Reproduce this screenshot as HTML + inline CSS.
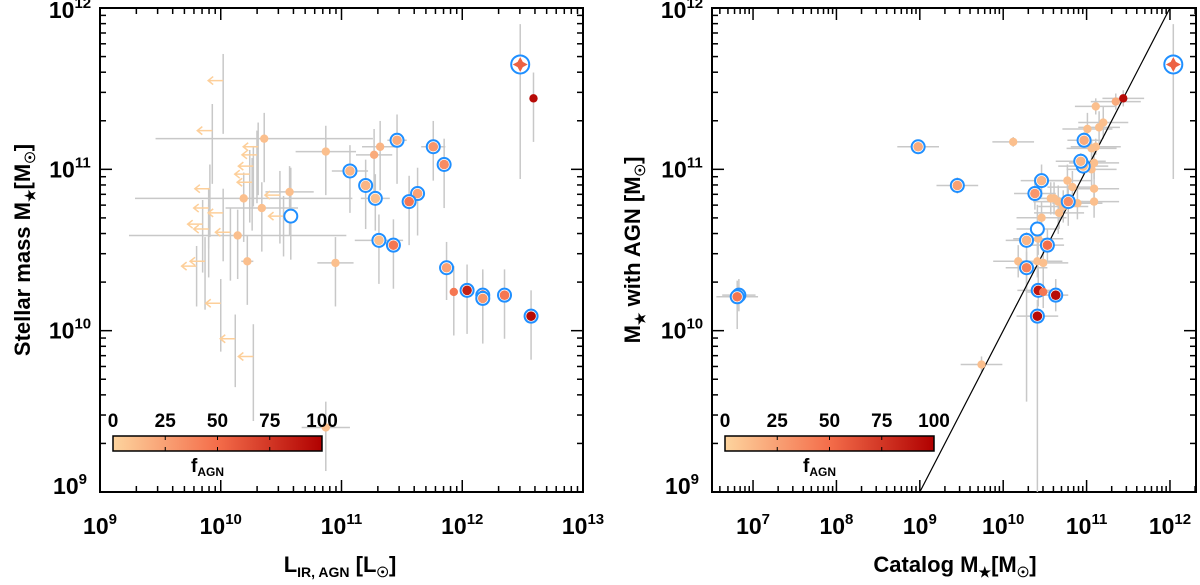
<!DOCTYPE html>
<html><head><meta charset="utf-8"><style>
html,body{margin:0;padding:0;background:#fff}
svg{display:block;font-family:"Liberation Sans",Arial,sans-serif;font-weight:bold}
</style></head><body>
<svg id="fig" width="1200" height="585" viewBox="0 0 1200 585" xmlns="http://www.w3.org/2000/svg">
<defs>
<linearGradient id="cmap" x1="0" x2="1" y1="0" y2="0">
<stop offset="0" stop-color="#fdd49e"/><stop offset="0.5" stop-color="#f46d4a"/><stop offset="1" stop-color="#b00000"/>
</linearGradient>
<clipPath id="clipL"><rect x="100" y="8" width="483" height="484"/></clipPath>
<clipPath id="clipR"><rect x="712" y="8" width="484" height="484"/></clipPath>
</defs>
<g id="left"></g>
<g id="right"></g>
</svg>
<script>
// ---- Left panel data (log10 values) ----
const leftL   = [12.48,12.59,11.46,11.76,11.85,11.07,11.20,11.28,11.63,11.56,10.58,11.31,11.43,11.87,12.04,12.17,12.17,12.35,12.57,11.93,11.32,11.27,10.87,10.36,10.57,10.19,10.34,10.14,10.22,10.95,10.87];
const leftM   = [11.65,11.44,11.18,11.14,11.03,10.99,10.90,10.82,10.85,10.80,10.71,10.56,10.53,10.39,10.25,10.22,10.20,10.22,10.09,10.24,11.14,11.09,11.11,11.19,10.86,10.82,10.76,10.59,10.43,10.42,9.40];
const leftF   = [55,95,20,30,35,15,15,10,25,45,-1,10,45,25,85,90,30,45,95,45,15,20,10,10,10,10,10,10,10,10,10];
const leftRing= [2,0,1,1,1,1,1,1,1,1,1,1,1,1,1,1,1,1,1,0,0,0,0,0,0,0,0,0,0,0,0];
const leftYlo = [0.71,0.27,0.27,0.21,0.27,0.26,0.27,0.2,0.26,0.27,0.27,0.27,0.27,0.2,0.27,0.28,0.28,0.27,0.27,0.27,0.27,0.27,0.27,0.27,0.27,0.27,0.27,0.27,0.27,0.27,0.27];
const leftYhi = [0.25,0.16,0.16,0.16,0.16,0.16,0.16,0.15,0.16,0.16,0.30,0.16,0.16,0.16,0.16,0.16,0.16,0.16,0.16,0.16,0.16,0.16,0.16,0.16,0.16,0.16,0.16,0.16,0.16,0.16,0.16];
const leftXerr= [0.05,0.03,0.08,0.10,0.05,0.15,0.05,0.12,0.05,0.05,0.05,0.2,0.03,0.03,0.03,0.03,0.03,0.03,0.03,0.03,0.15,0.15,0.25,0.9,0.2,0.9,0.3,0.9,0.05,0.15,0.2];
// upper limits (arrows)
const limL = [10.02,9.93,10.31,10.30,10.27,10.24,10.26,9.91,10.49,9.90,10.02,10.52,9.85,9.90,10.08,9.87,9.80,10.00,10.12,10.27];
const limM = [11.55,11.24,11.14,11.09,11.02,10.97,10.92,10.88,10.84,10.76,10.73,10.71,10.66,10.63,10.61,10.43,10.40,10.17,9.95,9.84];
const limErr=[0.33,0.33,0.3,0.3,0.25,0.3,0.3,0.3,0.3,0.25,0.3,0.25,0.3,0.3,0.3,0.3,0.25,0.3,0.3,0.4];

// ---- Right panel data ----
const rightX  = [12.04,11.44,8.98,9.45,10.12,10.97,10.93,10.96,10.46,10.38,10.78,10.41,10.28,10.53,10.28,10.48,10.42,10.63,10.41,6.81,6.83,
  11.11,11.35,11.20,11.01,11.15,11.11,11.06,11.09,11.06,10.77,10.83,11.09,11.09,10.57,10.61,10.66,10.89,10.72,10.67,10.46,10.42,10.18,10.41,10.48,9.74];
const rightY  = [11.65,11.44,11.14,10.90,11.17,11.18,11.05,11.02,10.93,10.85,10.80,10.63,10.56,10.53,10.39,10.24,10.25,10.22,10.09,10.21,10.22,
  11.39,11.42,11.29,11.25,11.26,11.14,11.13,11.04,11.00,10.93,10.89,10.88,10.80,10.82,10.82,10.80,10.79,10.77,10.73,10.70,10.57,10.43,10.43,10.42,9.79];
const rightF  = [55,95,20,25,10,20,15,10,15,30,35,-1,15,50,40,45,90,95,95,45,40,
  10,20,10,10,10,10,10,10,10,10,10,10,10,10,10,10,10,10,10,10,10,10,10,10,10];
const rightRing=[2,0,1,1,0,1,1,1,1,1,1,1,1,1,1,0,1,1,1,1,1,
  0,0,0,0,0,0,0,0,0,0,0,0,0,0,0,0,0,0,0,0,0,0,0,0,0];
const rightXerr=[0.03,0.25,0.25,0.25,0.25,0.2,0.3,0.3,0.25,0.25,0.3,0.25,0.25,0.2,0.25,0.2,0.25,0.15,0.25,0.25,0.2,
  0.25,0.3,0.3,0.3,0.25,0.3,0.3,0.3,0.3,0.3,0.3,0.3,0.3,0.25,0.25,0.3,0.3,0.3,0.3,0.3,0.3,0.3,0.3,0.3,0.25];
const rightYlo= [0.71,0.05,0.03,0.05,0.03,0.05,0.05,0.05,0.1,0.1,0.15,0.1,1.0,0.1,0.15,0.1,0.1,0.1,1.3,0.2,0.1,
  0.05,0.05,0.1,0.1,0.1,0.05,0.05,0.1,0.1,0.1,0.1,0.1,0.1,0.1,0.1,0.2,0.1,0.1,0.1,0.1,0.1,0.1,0.1,0.1,0.05];
const rightYhi= [0.25,0.05,0.03,0.05,0.03,0.05,0.05,0.05,0.1,0.1,0.1,0.15,0.05,0.1,0.1,0.1,0.15,0.1,0.1,0.1,0.1,
  0.05,0.05,0.1,0.1,0.1,0.05,0.05,0.1,0.1,0.1,0.1,0.1,0.1,0.1,0.1,0.1,0.1,0.1,0.1,0.1,0.1,0.1,0.1,0.1,0.05];
const cbTicks = [0,25,50,75,100];

const NS="http://www.w3.org/2000/svg";
function mk(parent,tag,attrs,name,inter){
  const e=document.createElementNS(NS,tag);
  for(const k in attrs) e.setAttribute(k,attrs[k]);
  
  
  parent.appendChild(e); return e;
}
function cmap(f){
  const a=[253,212,158],b=[244,109,74],c=[176,0,0];
  let t=f/100, p,q,u;
  if(t<0.5){p=a;q=b;u=t/0.5}else{p=b;q=c;u=(t-0.5)/0.5}
  return 'rgb('+p.map((v,i)=>Math.round(v+(q[i]-v)*u)).join(',')+')';
}
const Y0=8, Y1=492;
function yScale(v){return Y0+(12-v)*(Y1-Y0)/3;}

function axes(g,x0,x1,lxmin,lxmax,xlabels){
  const xs=v=>x0+(v-lxmin)*(x1-x0)/(lxmax-lxmin);
  mk(g,'rect',{x:x0,y:Y0,width:x1-x0,height:Y1-Y0,fill:'none',stroke:'#000','stroke-width':2},'plot-frame',false);
  for(let d=Math.floor(lxmin);d<=Math.ceil(lxmax);d++){
    for(let m=1;m<10;m++){
      const v=d+Math.log10(m); if(v<lxmin-1e-6||v>lxmax+1e-6) continue;
      const X=xs(v), L=m===1?12:6;
      mk(g,'line',{x1:X,x2:X,y1:Y1,y2:Y1-L,stroke:'#000','stroke-width':1.5},m===1?'x-major-tick':'x-minor-tick',false);
      mk(g,'line',{x1:X,x2:X,y1:Y0,y2:Y0+L,stroke:'#000','stroke-width':1.5},m===1?'x-major-tick':'x-minor-tick',false);
      if(m===1 && xlabels.includes(d)){
        const t=mk(g,'text',{x:X,y:534,'text-anchor':'middle','font-size':23},'x-tick-label',false);
        t.textContent='10';
        const s=document.createElementNS(NS,'tspan');s.setAttribute('dy',-10);s.setAttribute('font-size',15);s.textContent=d;t.appendChild(s);
      }
    }
  }
  for(let d=9;d<=12;d++){
    for(let m=1;m<10;m++){
      const v=d+Math.log10(m); if(v>12+1e-6) continue;
      const Y=yScale(v), L=m===1?12:6;
      mk(g,'line',{x1:x0,x2:x0+L,y1:Y,y2:Y,stroke:'#000','stroke-width':1.5},m===1?'y-major-tick':'y-minor-tick',false);
      mk(g,'line',{x1:x1,x2:x1-L,y1:Y,y2:Y,stroke:'#000','stroke-width':1.5},m===1?'y-major-tick':'y-minor-tick',false);
      if(m===1){
        const t=mk(g,'text',{x:x0-30,y:Y+(d===12?10:d===9?2:8),'text-anchor':'middle','font-size':23},'y-tick-label',false);
        t.textContent='10';
        const s=document.createElementNS(NS,'tspan');s.setAttribute('dy',-10);s.setAttribute('font-size',15);s.textContent=d;t.appendChild(s);
      }
    }
  }
  return xs;
}
function colorbar(g,x0){
  const w=209;
  mk(g,'rect',{x:x0,y:436,width:w,height:15,fill:'url(#cmap)',stroke:'#000','stroke-width':1.5},'colorbar',false);
  cbTicks.forEach(v=>{
    const X=x0+v/100*w;
    if(v>0&&v<100){
      mk(g,'line',{x1:X,x2:X,y1:436,y2:440,stroke:'#000','stroke-width':1},'colorbar-tick',false);
      mk(g,'line',{x1:X,x2:X,y1:451,y2:447,stroke:'#000','stroke-width':1},'colorbar-tick',false);
    }
    const t=mk(g,'text',{x:X,y:427,'text-anchor':'middle','font-size':19},'colorbar-tick-label',false);
    t.textContent=v;
  });
  const t=mk(g,'text',{x:x0+w/2-10,y:472,'text-anchor':'middle','font-size':19},'colorbar-title',false);
  t.textContent='f';
  const s=document.createElementNS(NS,'tspan');s.setAttribute('font-size',12);s.setAttribute('dy',4);s.textContent='AGN';t.appendChild(s);
}
function point(g,X,Y,f,ring){
  const fill=f<0?'none':cmap(f);
  if(ring===2){
    mk(g,'circle',{cx:X,cy:Y,r:9,fill:'#fff',stroke:'#1f8fff','stroke-width':2},'ring-marker',false);
    const s=7.5,k=2.6;
    mk(g,'path',{d:`M${X-s},${Y} L${X-k},${Y-k} L${X},${Y-s} L${X+k},${Y-k} L${X+s},${Y} L${X+k},${Y+k} L${X},${Y+s} L${X-k},${Y+k}Z`,fill:fill},'star-marker',true);
  } else if(ring===1){
    mk(g,'circle',{cx:X,cy:Y,r:6.5,fill:'#fff',stroke:'#1f8fff','stroke-width':2},'ring-marker',false);
    if(f>=0) mk(g,'circle',{cx:X,cy:Y,r:4.8,fill:fill},'data-point',true);
  } else {
    mk(g,'circle',{cx:X,cy:Y,r:4.2,fill:fill},'data-point',true);
  }
}

// LEFT
(function(){
  const g=document.getElementById('left');
  const xs=axes(g,100,583,9,13,[9,10,11,12,13]);
  const eg=mk(g,'g',{'clip-path':'url(#clipL)'},'error-bars',false);
  leftL.forEach((v,i)=>{
    const X=xs(v),Y=yScale(leftM[i]);
    mk(eg,'line',{x1:X,x2:X,y1:yScale(leftM[i]+leftYhi[i]),y2:yScale(leftM[i]-leftYlo[i]),stroke:'#c8c8c8','stroke-width':1.5},'y-error-bar',false);
    mk(eg,'line',{x1:xs(v-leftXerr[i]),x2:xs(v+leftXerr[i]),y1:Y,y2:Y,stroke:'#c8c8c8','stroke-width':1.5},'x-error-bar',false);
  });
  limL.forEach((v,i)=>{
    const X=xs(v);
    mk(eg,'line',{x1:X,x2:X,y1:yScale(limM[i]+limErr[i]*0.5),y2:yScale(limM[i]-limErr[i]),stroke:'#c8c8c8','stroke-width':1.5},'y-error-bar',false);
  });
  limL.forEach((v,i)=>{
    const X=xs(v),Y=yScale(limM[i]);
    mk(g,'path',{d:`M${X},${Y} H${X-15} M${X-10},${Y-4} L${X-15},${Y} L${X-10},${Y+4}`,fill:'none',stroke:'#fdcf9a','stroke-width':1.5},'upper-limit-arrow',false);
  });
  const pg=mk(g,'g',{},'points',false);
  leftL.forEach((v,i)=>point(pg,xs(v),yScale(leftM[i]),leftF[i],leftRing[i]));
  colorbar(g,113);
  const xt=mk(g,'text',{x:340,y:572,'text-anchor':'middle','font-size':22},'x-axis-title',false);
  xt.innerHTML='L<tspan font-size="14" dy="5">IR, AGN</tspan><tspan dy="-5"> [L</tspan><tspan font-size="14" dy="5">☉</tspan><tspan dy="-5">]</tspan>';
  const yt=mk(g,'text',{x:0,y:0,'text-anchor':'middle','font-size':22,transform:'translate(30,250) rotate(-90)'},'y-axis-title',false);
  yt.innerHTML='Stellar mass M<tspan font-size="14" dy="5">★</tspan><tspan dy="-5">[M</tspan><tspan font-size="14" dy="5">☉</tspan><tspan dy="-5">]</tspan>';
})();

// RIGHT
(function(){
  const g=document.getElementById('right');
  const lo=7-(753-712)/83.3, hi=12+(1196-1170)/83.3;
  const xs=axes(g,712,1196,lo,hi,[7,8,9,10,11,12]);
  const eg=mk(g,'g',{'clip-path':'url(#clipR)'},'error-bars',false);
  rightX.forEach((v,i)=>{
    const X=xs(v),Y=yScale(rightY[i]);
    mk(eg,'line',{x1:X,x2:X,y1:yScale(rightY[i]+rightYhi[i]),y2:yScale(rightY[i]-rightYlo[i]),stroke:'#c8c8c8','stroke-width':1.5},'y-error-bar',false);
    mk(eg,'line',{x1:xs(v-rightXerr[i]),x2:xs(v+rightXerr[i]),y1:Y,y2:Y,stroke:'#c8c8c8','stroke-width':1.5},'x-error-bar',false);
  });
  const lg=mk(g,'g',{'clip-path':'url(#clipR)'},'one-to-one-line-group',false);
  mk(lg,'line',{x1:xs(9),y1:yScale(9),x2:xs(12.1),y2:yScale(12.1),stroke:'#000','stroke-width':1.2},'one-to-one-line',false);
  const pg=mk(g,'g',{},'points',false);
  for(let i=rightX.length-1;i>=0;i--) point(pg,xs(rightX[i]),yScale(rightY[i]),rightF[i],rightRing[i]);
  colorbar(g,725);
  const xt=mk(g,'text',{x:955,y:572,'text-anchor':'middle','font-size':22},'x-axis-title',false);
  xt.innerHTML='Catalog M<tspan font-size="14" dy="5">★</tspan><tspan dy="-5">[M</tspan><tspan font-size="14" dy="5">☉</tspan><tspan dy="-5">]</tspan>';
  const yt=mk(g,'text',{x:0,y:0,'text-anchor':'middle','font-size':22,transform:'translate(640,250) rotate(-90)'},'y-axis-title',false);
  yt.innerHTML='M<tspan font-size="14" dy="5">★</tspan><tspan dy="-5"> with AGN [M</tspan><tspan font-size="14" dy="5">☉</tspan><tspan dy="-5">]</tspan>';
})();
</script>
</body></html>
